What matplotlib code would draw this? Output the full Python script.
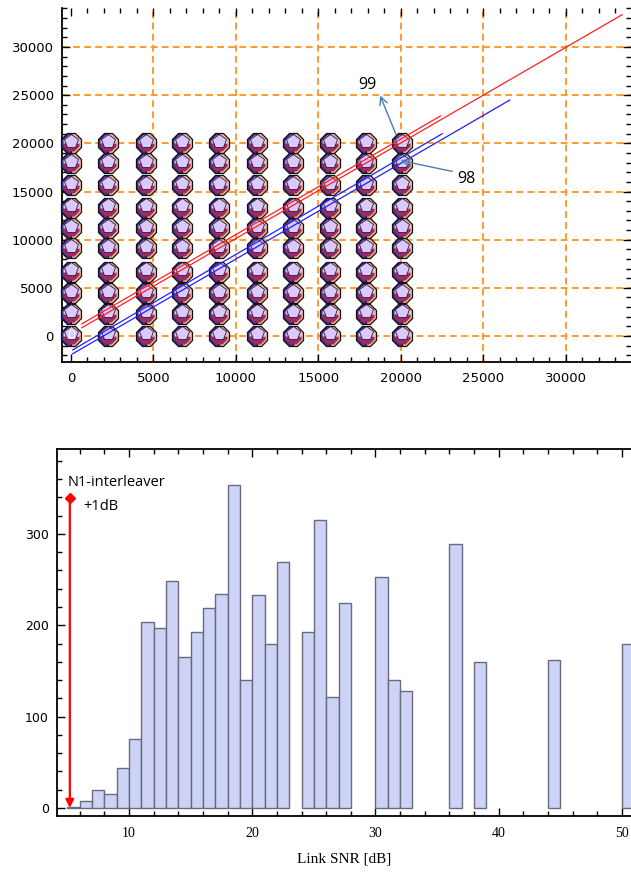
import matplotlib
matplotlib.use("Agg")
import matplotlib.pyplot as plt
from matplotlib.ticker import MultipleLocator
from matplotlib.transforms import offset_copy

# ---- top panel data ----
grid_cols = [0, 2250, 4550, 6750, 9000, 11250, 13450, 15700, 17900, 20050]
grid_rows = [0, 2300, 4450, 6650, 9100, 11200, 13300, 15650, 17950, 20000]

red_long_x = [650, 33400]
red_long_y = [850, 33350]
red_short_x = [650, 22400]
red_short_y = [1250, 22850]
blue_long_x = [100, 26600]
blue_long_y = [-1850, 24500]
blue_short_x = [100, 22500]
blue_short_y = [-1450, 21000]

top_ticks = [0, 5000, 10000, 15000, 20000, 25000, 30000]

# ---- bottom panel data ----
snr_bins = [5, 6, 7, 8, 9, 10, 11, 12, 13, 14, 15, 16, 17, 18, 19, 20, 21, 22,
            24, 25, 26, 27, 30, 31, 32, 36, 38, 44, 50]
snr_counts = [1, 8, 20, 15, 44, 75, 204, 197, 248, 165, 193, 219, 234, 354, 140,
              233, 180, 269, 193, 315, 121, 224, 253, 140, 128, 289, 160, 162, 180]
marker_snr = 5.2
marker_top = 339

fig = plt.figure(figsize=(6.31, 8.74), dpi=100)

# ================= top panel =================
ax1 = fig.add_axes([62 / 631, (874 - 362) / 874, (631 - 62) / 631, (362 - 8) / 874])
ax1.set_xlim(-545, 33940)
ax1.set_ylim(-2700, 34050)

ax1.set_xticks(top_ticks)
ax1.set_yticks(top_ticks)
ax1.xaxis.set_minor_locator(MultipleLocator(1000))
ax1.yaxis.set_minor_locator(MultipleLocator(1000))
ax1.tick_params(which="both", direction="in", top=True, right=True,
                labelsize=9.5, width=1.0, colors="black")
ax1.tick_params(which="major", length=6)
ax1.tick_params(which="minor", length=3.5)
ax1.tick_params(axis="x", pad=7)
ax1.tick_params(axis="y", pad=6)
for side in ["top", "right"]:
    ax1.spines[side].set_visible(False)
for side in ["left", "bottom"]:
    ax1.spines[side].set_linewidth(1.3)

ax1.grid(True, color="#ff9a2e", linestyle=(0, (3.5, 2.2)), linewidth=1.4)
ax1.set_axisbelow(True)
ax1.xaxis.get_gridlines()[0].set_visible(False)

# markers: layered to mimic the shaded polyhedron glyphs
xs = [x for x in grid_cols for _ in grid_rows]
ys = [y for _ in grid_cols for y in grid_rows]
ax1.plot(xs, ys, linestyle="none", marker="8", markersize=15,
         fillstyle="left", markerfacecolor="#4a2a8e",
         markerfacecoloralt="#f6b88a", markeredgecolor="#111111",
         markeredgewidth=0.9, zorder=3, clip_on=False)
ax1.plot(xs, ys, linestyle="none", marker="8", markersize=12,
         fillstyle="bottom", markerfacecolor="#9e2b60",
         markerfacecoloralt="#d9c8f9", markeredgecolor="none", zorder=4,
         clip_on=False)
up = offset_copy(ax1.transData, fig=fig, x=0, y=2.5, units="dots")
ax1.plot(xs, ys, linestyle="none", marker="p", markersize=10,
         markerfacecolor="#dac9fa", markeredgecolor="#2a1a40",
         markeredgewidth=0.6, transform=up, zorder=5, clip_on=False)

ax1.text(0, 0, "0", color="white", fontsize=9, ha="center", va="center",
         zorder=6)

ax1.plot(red_long_x, red_long_y, color="#ff2020", linewidth=0.9, zorder=7)
ax1.plot(red_short_x, red_short_y, color="#ff2020", linewidth=0.9, zorder=7)
ax1.plot(blue_long_x, blue_long_y, color="#2020ff", linewidth=0.9, zorder=7)
ax1.plot(blue_short_x, blue_short_y, color="#2020ff", linewidth=0.9, zorder=7)

ann_color = "#4a7db5"
ax1.annotate("", xy=(18670, 25225), xytext=(19760, 20660),
             arrowprops=dict(arrowstyle="->", color=ann_color, lw=1.0,
                             mutation_scale=14), zorder=8)
ax1.text(17940, 26060, "99", fontsize=11.5, family="Open Sans",
         ha="center", va="center", zorder=8)
ax1.annotate("", xy=(19820, 18270), xytext=(23270, 17025),
             arrowprops=dict(arrowstyle="->", color=ann_color, lw=1.0,
                             mutation_scale=14), zorder=8)
ax1.text(23940, 16300, "98", fontsize=11.5, family="Open Sans",
         ha="center", va="center", zorder=8)

# ================= bottom panel =================
ax2 = fig.add_axes([57 / 631, (874 - 816) / 874, (631 - 57) / 631, (816 - 449) / 874])
ax2.set_xlim(4.16, 50.73)
ax2.set_ylim(-8.8, 393)

ax2.bar(snr_bins, snr_counts, width=1, align="edge", color="#ccd3f6",
        edgecolor="#6a6a7e", linewidth=1.0, zorder=2)

ax2.set_xticks([10, 20, 30, 40, 50])
ax2.set_yticks([0, 100, 200, 300])
ax2.xaxis.set_minor_locator(MultipleLocator(2))
ax2.yaxis.set_minor_locator(MultipleLocator(20))
ax2.tick_params(which="both", direction="in", top=True, right=False,
                width=1.0, colors="black")
ax2.tick_params(which="major", length=6)
ax2.tick_params(which="minor", length=3.5)
ax2.tick_params(axis="x", pad=8, labelsize=10)
ax2.tick_params(axis="y", pad=6, labelsize=9)
for lab in ax2.get_xticklabels():
    lab.set_family("Liberation Serif")
ax2.spines["right"].set_visible(False)
for side in ["left", "bottom", "top"]:
    ax2.spines[side].set_linewidth(1.3)

ax2.annotate("", xy=(marker_snr, 0), xytext=(marker_snr, marker_top),
             arrowprops=dict(arrowstyle="-|>", color="red", lw=1.6,
                             mutation_scale=12, shrinkA=0, shrinkB=0),
             zorder=5)
ax2.plot([marker_snr], [marker_top], marker="D", color="red", markersize=5,
         zorder=6)
ax2.text(5.0, 356, "N1-interleaver", fontsize=10.5, family="Open Sans",
         ha="left", va="center")
ax2.text(6.3, 330, "+1dB", fontsize=10.5, family="Open Sans",
         ha="left", va="center")

ax2.set_xlabel("Link SNR [dB]", family="Liberation Serif", fontsize=11,
               labelpad=9)

fig.savefig("out.png", dpi=100)
